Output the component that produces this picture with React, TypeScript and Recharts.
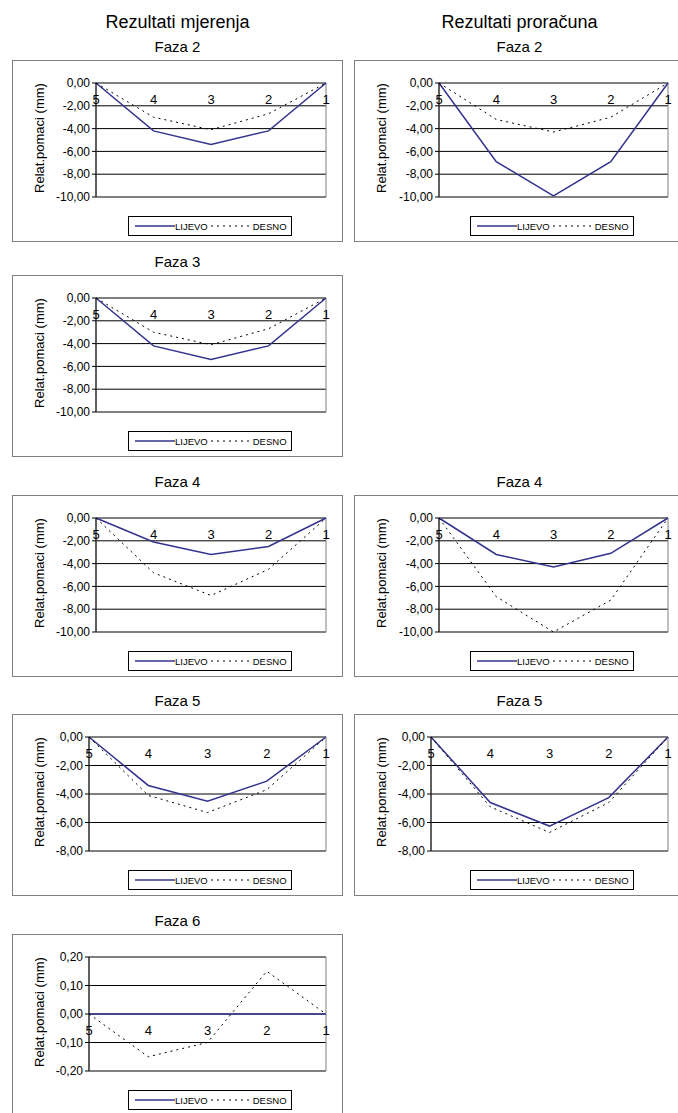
import { LineChart, Line, XAxis, YAxis, CartesianGrid, ReferenceDot } from 'recharts';

// mjerne tocke
const tocke = ['5', '4', '3', '2', '1'];

// Rezultati mjerenja
const mjerenjaFaza2Lijevo = [0, -4.2, -5.4, -4.2, 0];
const mjerenjaFaza2Desno = [0, -3.0, -4.1, -2.7, 0];
const mjerenjaFaza3Lijevo = [0, -4.2, -5.4, -4.2, 0];
const mjerenjaFaza3Desno = [0, -3.0, -4.1, -2.7, 0];
const mjerenjaFaza4Lijevo = [0, -2.1, -3.2, -2.5, 0];
const mjerenjaFaza4Desno = [0, -4.8, -6.8, -4.5, 0];
const mjerenjaFaza5Lijevo = [0, -3.4, -4.5, -3.1, 0];
const mjerenjaFaza5Desno = [0, -4.1, -5.3, -3.7, 0];
const mjerenjaFaza6Lijevo = [0, 0, 0, 0, 0];
const mjerenjaFaza6Desno = [0, -0.15, -0.1, 0.15, 0];

// Rezultati proracuna
const proracunFaza2Lijevo = [0, -6.9, -9.9, -6.9, 0];
const proracunFaza2Desno = [0, -3.2, -4.3, -3.0, 0];
const proracunFaza4Lijevo = [0, -3.2, -4.3, -3.1, 0];
const proracunFaza4Desno = [0, -6.9, -10.0, -7.2, 0];
const proracunFaza5Lijevo = [0, -4.6, -6.25, -4.25, 0];
const proracunFaza5Desno = [0, -4.9, -6.7, -4.6, 0];

const ticksDo10 = [0, -2, -4, -6, -8, -10];
const ticksDo8 = [0, -2, -4, -6, -8];
const ticksFaza6 = [0.2, 0.1, 0, -0.1, -0.2];

const FONT = '"Liberation Sans", Arial, sans-serif';
const NAVY = '#33338f';
const BOX_W = 331;
const BOX_H = 182;

const fmt = (v: number) => (Math.abs(v) < 1e-9 ? 0 : v).toFixed(2).replace('.', ',');

function YLabel({ viewBox }: any) {
  const x = viewBox.x + 26;
  const y = viewBox.y + viewBox.height / 2 - 2;
  return (
    <text
      x={x}
      y={y}
      transform={`rotate(-90 ${x} ${y})`}
      textAnchor="middle"
      dominantBaseline="central"
      fontSize={13}
      fill="#000"
      fontFamily={FONT}
    >
      Relat.pomaci (mm)
    </text>
  );
}

function Legenda() {
  return (
    <div
      style={{
        position: 'absolute',
        left: 115,
        top: 155,
        width: 164,
        height: 20,
        boxSizing: 'border-box',
        border: '1px solid #000',
        background: '#fff',
        display: 'flex',
        alignItems: 'center',
        fontSize: 9.5,
        fontFamily: FONT,
        color: '#000',
        paddingLeft: 6,
      }}
    >
      <svg width={40} height={6}>
        <line x1={0} y1={3} x2={40} y2={3} stroke={NAVY} strokeWidth={1.5} />
      </svg>
      <span>LIJEVO</span>
      <svg width={42} height={6} style={{ marginLeft: 3 }}>
        <line x1={0} y1={3} x2={42} y2={3} stroke="#000" strokeWidth={1} strokeDasharray="2 4" />
      </svg>
      <span>DESNO</span>
    </div>
  );
}

interface PanelProps {
  title: string;
  left: number;
  top: number;
  lijevo: number[];
  desno: number[];
  ticks: number[];
  yWidth: number;
}

function Panel({ title, left, top, lijevo, desno, ticks, yWidth }: PanelProps) {
  const data = tocke.map((t, i) => ({ tocka: t, lijevo: lijevo[i], desno: desno[i] }));
  const domain = [Math.min(...ticks), Math.max(...ticks)];
  return (
    <>
      <div
        style={{
          position: 'absolute',
          left,
          top: top - 22,
          width: BOX_W,
          textAlign: 'center',
          fontSize: 15,
          lineHeight: '18px',
          fontFamily: FONT,
        }}
      >
        {title}
      </div>
      <div
        style={{
          position: 'absolute',
          left,
          top,
          width: BOX_W,
          height: BOX_H,
          boxSizing: 'border-box',
          border: '1px solid #808080',
          background: '#fff',
        }}
      >
        <LineChart
          width={BOX_W - 2}
          height={BOX_H - 2}
          data={data}
          margin={{ top: 22, right: 16, bottom: 44, left: 0 }}
        >
          <CartesianGrid vertical={false} stroke="#000" strokeWidth={1} />
          <CartesianGrid horizontal={false} stroke="#808080" strokeWidth={1} />
          <XAxis dataKey="tocka" type="category" tick={false} axisLine={false} tickLine={false} height={0} />
          <YAxis
            type="number"
            domain={domain}
            ticks={ticks}
            interval={0}
            tickFormatter={fmt}
            width={yWidth}
            tick={{ fontSize: 12, fill: '#000', fontFamily: FONT }}
            axisLine={{ stroke: '#000' }}
            tickLine={{ stroke: '#000' }}
            tickSize={4}
            label={<YLabel />}
          />
          <Line
            type="linear"
            dataKey="lijevo"
            stroke={NAVY}
            strokeWidth={1.5}
            dot={false}
            isAnimationActive={false}
          />
          <Line
            type="linear"
            dataKey="desno"
            stroke="#000"
            strokeWidth={1}
            strokeDasharray="2 4"
            dot={false}
            isAnimationActive={false}
          />
          {tocke.map((t) => (
            <ReferenceDot
              key={t}
              x={t}
              y={0}
              r={0}
              stroke="none"
              fill="none"
              label={{ value: t, position: 'bottom', offset: 12, fontSize: 13, fill: '#000', fontFamily: FONT }}
            />
          ))}
        </LineChart>
        <Legenda />
      </div>
    </>
  );
}

export default function App() {
  const L = 12;
  const R = 354;
  return (
    <div
      style={{
        position: 'absolute',
        left: 0,
        top: 0,
        width: 678,
        height: 1113,
        overflow: 'hidden',
        background: '#fff',
        fontFamily: FONT,
      }}
    >
      <div style={{ position: 'absolute', left: L, top: 11, width: BOX_W, textAlign: 'center', fontSize: 18, lineHeight: '22px' }}>
        Rezultati mjerenja
      </div>
      <div style={{ position: 'absolute', left: R, top: 11, width: BOX_W, textAlign: 'center', fontSize: 18, lineHeight: '22px' }}>
        Rezultati proračuna
      </div>

      <Panel title="Faza 2" left={L} top={60} lijevo={mjerenjaFaza2Lijevo} desno={mjerenjaFaza2Desno} ticks={ticksDo10} yWidth={83} />
      <Panel title="Faza 2" left={R} top={60} lijevo={proracunFaza2Lijevo} desno={proracunFaza2Desno} ticks={ticksDo10} yWidth={84} />

      <Panel title="Faza 3" left={L} top={275} lijevo={mjerenjaFaza3Lijevo} desno={mjerenjaFaza3Desno} ticks={ticksDo10} yWidth={83} />

      <Panel title="Faza 4" left={L} top={495} lijevo={mjerenjaFaza4Lijevo} desno={mjerenjaFaza4Desno} ticks={ticksDo10} yWidth={83} />
      <Panel title="Faza 4" left={R} top={495} lijevo={proracunFaza4Lijevo} desno={proracunFaza4Desno} ticks={ticksDo10} yWidth={84} />

      <Panel title="Faza 5" left={L} top={714} lijevo={mjerenjaFaza5Lijevo} desno={mjerenjaFaza5Desno} ticks={ticksDo8} yWidth={76} />
      <Panel title="Faza 5" left={R} top={714} lijevo={proracunFaza5Lijevo} desno={proracunFaza5Desno} ticks={ticksDo8} yWidth={76} />

      <Panel title="Faza 6" left={L} top={934} lijevo={mjerenjaFaza6Lijevo} desno={mjerenjaFaza6Desno} ticks={ticksFaza6} yWidth={76} />
    </div>
  );
}
